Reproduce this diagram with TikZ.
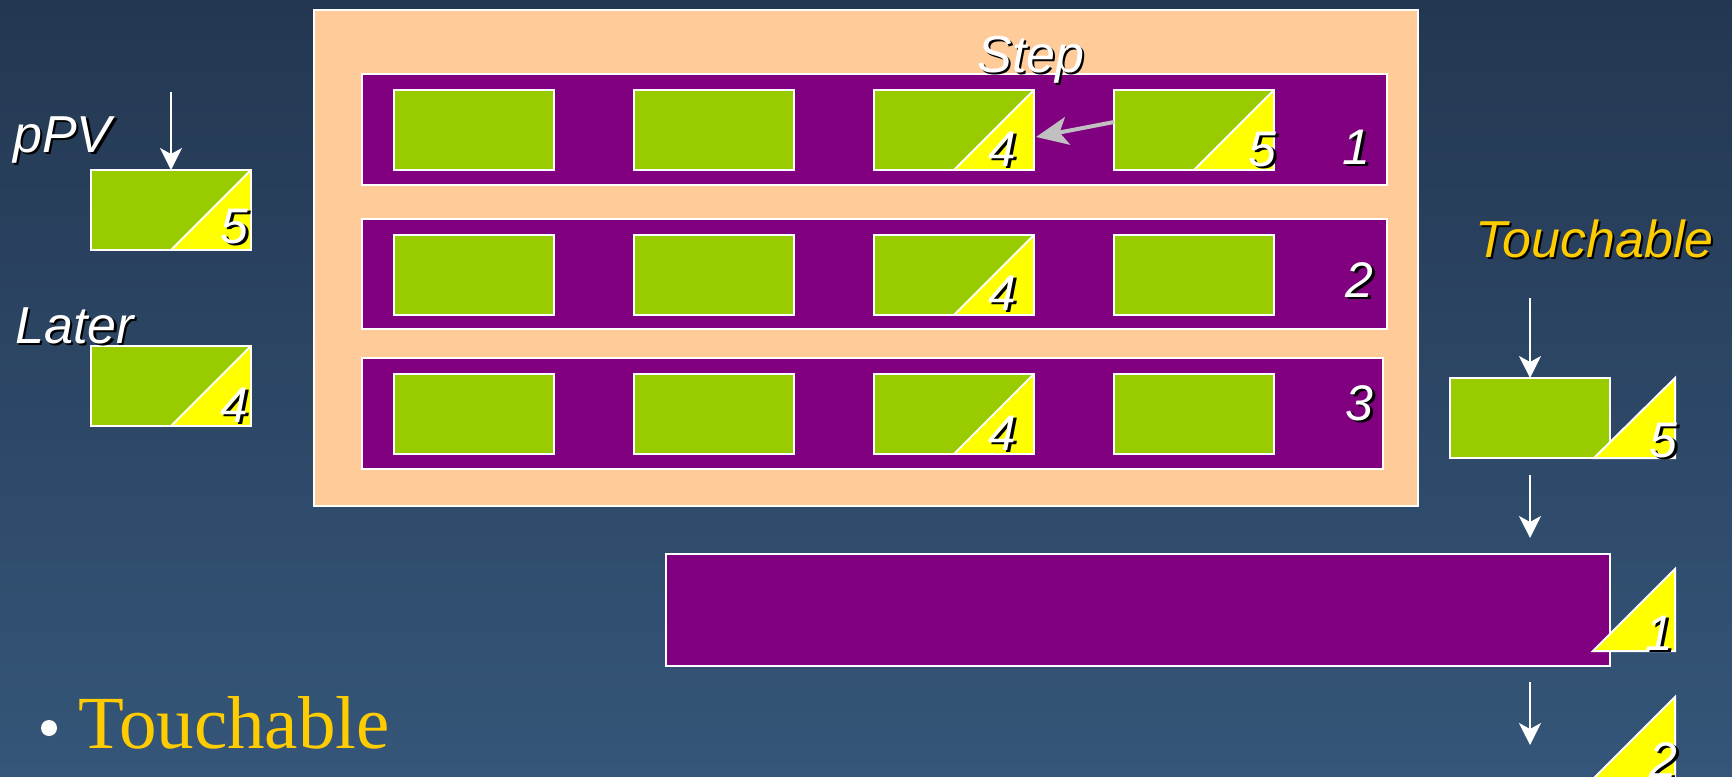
\documentclass[tikz,border=0pt]{standalone}
\usepackage{fontspec}
\setmainfont{Liberation Serif}
\newfontfamily\labfont{Liberation Sans}
\usetikzlibrary{arrows.meta}
\definecolor{peach}{HTML}{FFCC99}
\definecolor{purp}{HTML}{800080}
\definecolor{grn}{HTML}{99CC00}
\definecolor{yel}{HTML}{FFFF00}
\definecolor{gold}{HTML}{FFCC00}
\definecolor{bgtop}{HTML}{233751}
\definecolor{bgbot}{HTML}{355679}
\definecolor{arrowgray}{HTML}{C0C0C0}
\newcommand{\shd}[1]{\leavevmode\rlap{\kern1.2pt\raisebox{-1.2pt}{\color{black}#1}}#1}
\begin{document}
\begin{tikzpicture}[x=0.5pt,y=-0.5pt,
  gbox/.style={fill=grn, draw=white, line width=1pt, minimum width=80pt, minimum height=40pt, inner sep=0pt, outer sep=0pt, anchor=north west},
  half/.style={path picture={
     \fill[yel] (path picture bounding box.south) -- (path picture bounding box.north east) -- (path picture bounding box.south east) -- cycle;
     \draw[white, line width=1pt] (path picture bounding box.south) -- (path picture bounding box.north east);}},
  panel/.style={fill=purp, draw=white, line width=1pt, inner sep=0pt, outer sep=0pt, anchor=north west},
  lbl/.style={font=\labfont\itshape\fontsize{26}{31}\selectfont, text=white, inner sep=0pt},
  num/.style={font=\labfont\itshape\fontsize{25}{30}\selectfont, text=white, inner sep=0pt, anchor=base east},
  warr/.style={draw=white, line width=1pt, -{Stealth[length=11pt,width=11pt,inset=3pt]}},
  garr/.style={draw=arrowgray, line width=2pt, -{Stealth[length=16pt,width=14pt,inset=4pt]}},
  ytri/.style={fill=yel, draw=white, line width=1pt},
]
\useasboundingbox (0,0) rectangle (1732,776);
\shade[top color=bgtop, bottom color=bgbot] (0,0) rectangle (1732,776);

% outer peach box
\node[fill=peach, draw=white, line width=1pt, inner sep=0pt, outer sep=0pt, anchor=north west,
      minimum width=552pt, minimum height=248pt] (outer) at (314,10) {};

% rows
\node[panel, minimum width=512.5pt, minimum height=55.5pt] (row1) at (362,74) {};
\node[panel, minimum width=512.5pt, minimum height=55pt] (row2) at (362,219) {};
\node[panel, minimum width=510.5pt, minimum height=55.5pt] (row3) at (362,358) {};

% green boxes in rows
\node[gbox] (b11) at (394,90) {};
\node[gbox] (b12) at (634,90) {};
\node[gbox, half] (b13) at (874,90) {};
\node[gbox, half] (b14) at (1114,90) {};
\node[gbox] (b21) at (394,235) {};
\node[gbox] (b22) at (634,235) {};
\node[gbox, half] (b23) at (874,235) {};
\node[gbox] (b24) at (1114,235) {};
\node[gbox] (b31) at (394,374) {};
\node[gbox] (b32) at (634,374) {};
\node[gbox, half] (b33) at (874,374) {};
\node[gbox] (b34) at (1114,374) {};

% digits in rows
\node[num] (n13) at (1017,166) {\shd{4}};
\node[num] (n14) at (1277,166) {\shd{5}};
\node[num] (n23) at (1017,310) {\shd{4}};
\node[num] (n33) at (1017,450) {\shd{4}};
\node[num] (r1) at (1371,164) {\shd{1}};
\node[num] (r2) at (1374,297) {\shd{2}};
\node[num] (r3) at (1374,420) {\shd{3}};

% step arrow
\coordinate (stepfrom) at (1114,122);
\coordinate (stepto) at (1036,137);
\draw[garr] (stepfrom) -- (stepto);
\node[lbl, anchor=base west] (step) at (977,72) {\shd{Step}};

% left boxes
\node[gbox, half] (ppv) at (91,170) {};
\node[num] (nppv) at (249,243) {\shd{5}};
\node[lbl, anchor=base west] (ppvlbl) at (13,152) {\shd{pPV}};
\coordinate (ppvtop) at (171,92);
\draw[warr] (ppvtop) -- (ppv.north);

\node[gbox, half] (later) at (91,346) {};
\node[num] (nlater) at (249,422) {\shd{4}};
\node[lbl, anchor=base west] (laterlbl) at (15,343) {\shd{Later}};

% right side
\node[lbl, anchor=base west, text=gold] (touchlbl) at (1475,257) {\shd{Touchable}};
\node[gbox] (tbox) at (1450,378) {};
\coordinate (ttop) at (1530,298);
\draw[warr] (ttop) -- (tbox.north);
\coordinate (t5a) at (1594,458);
\coordinate (t5b) at (1675,378);
\coordinate (t5c) at (1675,458);
\filldraw[ytri] (t5a) -- (t5b) -- (t5c) -- cycle;
\node[num] (nt5) at (1678,457) {\shd{5}};

\coordinate (a2s) at (1530,475);
\coordinate (a2e) at (1530,538);
\draw[warr] (a2s) -- (a2e);

\node[panel, minimum width=472pt, minimum height=56pt] (big) at (666,554) {};
\coordinate (t1a) at (1593,651);
\coordinate (t1b) at (1675,569);
\coordinate (t1c) at (1675,651);
\filldraw[ytri] (t1a) -- (t1b) -- (t1c) -- cycle;
\node[num] (nt1) at (1674,650) {\shd{1}};

\coordinate (a3s) at (1530,682);
\coordinate (a3e) at (1530,745);
\draw[warr] (a3s) -- (a3e);

\coordinate (t2a) at (1593,779);
\coordinate (t2b) at (1675,697);
\coordinate (t2c) at (1675,779);
\filldraw[ytri] (t2a) -- (t2b) -- (t2c) -- cycle;
\node[num] (nt2) at (1678,777) {\shd{2}};

% bullet
\fill[white] (49,728) circle[radius=4pt];
\node[anchor=base west, inner sep=0pt, text=gold, font=\fontsize{37.5}{45}\selectfont] (bullet) at (78,748) {Touchable};
\end{tikzpicture}
\end{document}
